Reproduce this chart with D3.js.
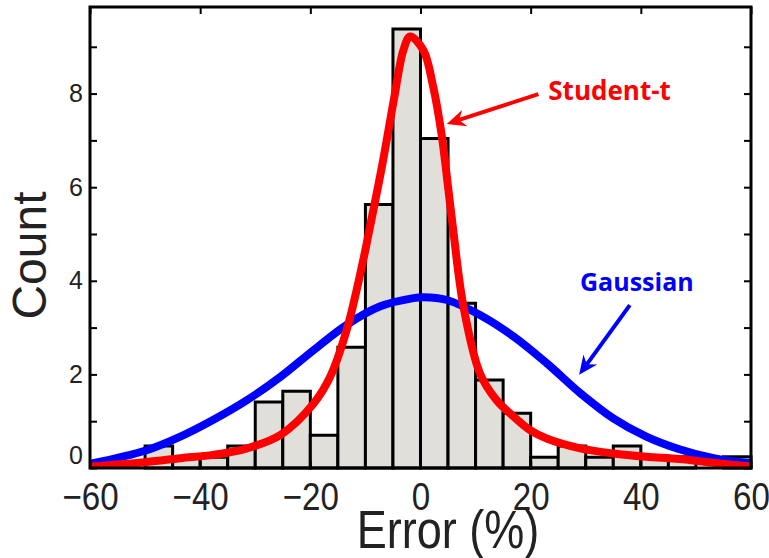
<!DOCTYPE html>
<html>
<head>
<meta charset="utf-8">
<script src="https://cdn.jsdelivr.net/npm/d3@7"></script>
<style>
  body { margin: 0; background: #fff; }
</style>
</head>
<body>
<script>
// histogram of errors, bins 5 % wide
var binEdges = [-60,-55,-50,-45,-40,-35,-30,-25,-20,-15,-10,-5,0,5,10,15,20,25,30,35,40,45,50,55,60]
var binCounts = [0,0,0.47,0.23,0.23,0.47,1.41,1.64,0.70,2.58,5.63,9.38,7.04,3.52,1.88,1.17,0.23,0.47,0.23,0.47,0.23,0.24,0,0.24]

// fitted curves
var gaussX = [-60,-49.7,-43.6,-37.6,-31.5,-25.4,-19.4,-13.4,-7.4,-1.3,0.5,4.8,10.8,16.9,22.9,29,35,41,47,53.2,60]
var gaussY = [0.09,0.38,0.67,1.03,1.45,1.95,2.52,3.06,3.45,3.63,3.65,3.59,3.27,2.81,2.24,1.60,1.06,0.67,0.40,0.21,0.10]

var studX = [-60,-49.7,-43.6,-37.6,-31.5,-25.4,-19.4,-16.4,-13.4,-10.4,-9.4,-7.0,-4.85,-3.1,-1.9,0.5,2.3,3.8,5.0,6.0,7.8,10.8,13.8,16.9,19.9,22.9,29,35,41,47,53.2,60]
var studY = [0.03,0.13,0.21,0.28,0.42,0.71,1.38,1.95,2.95,4.44,5.02,6.44,7.86,8.93,9.22,8.93,8.15,7.15,6.01,5.02,3.45,2.02,1.45,1.10,0.81,0.63,0.42,0.31,0.24,0.19,0.11,0.03]

var xTicks = [-60,-40,-20,0,20,40,60]
var yTicks = [0,1,2,3,4,5,6,7,8,9]
var yLabels = [0,2,4,6,8]

var width = 769, height = 558
var m = {left: 90, right: 751, top: 7, bottom: 468}
var sans = "'Liberation Sans', Arial, sans-serif"
var squeeze = "scale(0.85,1)"   // condensed look, no narrow font installed

var svg = d3.select("body").append("svg")
    .attr("width", width)
    .attr("height", height)

var x = d3.scaleLinear().domain([-60, 60]).range([m.left, m.right])
var y = d3.scaleLinear().domain([0, 9.85]).range([m.bottom, m.top])

svg.append("defs").append("clipPath").attr("id", "plot")
    .append("rect")
    .attr("x", m.left).attr("y", m.top)
    .attr("width", m.right - m.left).attr("height", m.bottom - m.top)

// bars
var bins = binCounts.map(function(c, i){ return {x0: binEdges[i], x1: binEdges[i+1], c: c} })
svg.append("g")
    .selectAll("rect")
    .data(bins.filter(function(d){ return d.c > 0 }))
    .enter()
    .append("rect")
    .attr("x", function(d){ return x(d.x0) })
    .attr("y", function(d){ return y(d.c) })
    .attr("width", function(d){ return x(d.x1) - x(d.x0) })
    .attr("height", function(d){ return y(0) - y(d.c) })
    .attr("fill", "#e0dfda")
    .attr("stroke", "#000")
    .attr("stroke-width", 3)

// curves
var line = d3.line()
    .x(function(d){ return x(d[0]) })
    .y(function(d){ return y(d[1]) })
    .curve(d3.curveCatmullRom.alpha(0.5))

var curves = svg.append("g").attr("clip-path", "url(#plot)")
curves.append("path")
    .attr("d", line(d3.zip(gaussX, gaussY)))
    .attr("fill", "none")
    .attr("stroke", "#0000ff")
    .attr("stroke-width", 8)
curves.append("path")
    .attr("d", line(d3.zip(studX, studY)))
    .attr("fill", "none")
    .attr("stroke", "#ff0000")
    .attr("stroke-width", 8)

// axes, ticks pointing inward
var fmtY = function(d){ return yLabels.indexOf(d) >= 0 ? d : "" }
var fmtX = function(d){ return d < 0 ? "\u2212" + Math.abs(d) : d }

var gl = svg.append("g").attr("transform", "translate(" + m.left + ",0)")
    .call(d3.axisLeft(y).tickValues(yTicks).tickSize(-7).tickPadding(7).tickFormat(fmtY))
var gr = svg.append("g").attr("transform", "translate(" + m.right + ",0)")
    .call(d3.axisRight(y).tickValues(yTicks).tickSize(-7).tickFormat(""))
var gb = svg.append("g").attr("transform", "translate(0," + m.bottom + ")")
    .call(d3.axisBottom(x).tickValues(xTicks).tickSize(-7).tickPadding(14).tickFormat(fmtX))
var gt = svg.append("g").attr("transform", "translate(0," + m.top + ")")
    .call(d3.axisTop(x).tickValues(xTicks).tickSize(-7).tickFormat(""))

svg.selectAll(".domain").remove()
svg.selectAll(".tick line").attr("stroke", "#000").attr("stroke-width", 2)

gl.selectAll("text")
    .style("font-family", sans)
    .style("font-size", "25px")
    .attr("fill", "#222")
gl.selectAll(".tick").filter(function(d){ return d == 0 }).select("text").attr("dy", "-0.18em")

gb.selectAll("text")
    .style("font-family", sans)
    .style("font-size", "39px")
    .attr("transform", squeeze)
    .attr("fill", "#222")

// frame
svg.append("rect")
    .attr("x", m.left).attr("y", m.top)
    .attr("width", m.right - m.left).attr("height", m.bottom - m.top)
    .attr("fill", "none")
    .attr("stroke", "#000")
    .attr("stroke-width", 3)

// axis titles
svg.append("g")
    .attr("transform", "translate(448,548)")
  .append("text")
    .attr("transform", squeeze)
    .attr("text-anchor", "middle")
    .style("font-family", sans)
    .style("font-size", "53px")
    .attr("fill", "#222")
    .text("Error (%)")

svg.append("text")
    .attr("transform", "translate(46," + ((m.top + m.bottom) / 2 + 18) + ") rotate(-90)")
    .attr("text-anchor", "middle")
    .style("font-family", sans)
    .style("font-size", "48px")
    .attr("fill", "#222")
    .text("Count")

// annotations
function arrow(x0, y0, x1, y1, color){
    var px0 = x(x0), py0 = y(y0), px1 = x(x1), py1 = y(y1)
    var a = Math.atan2(py1 - py0, px1 - px0)
    var len = 19, half = 8.5, notch = 13
    var ux = Math.cos(a), uy = Math.sin(a)
    var bx = px1 - ux * len, by = py1 - uy * len
    var nx = px1 - ux * notch, ny = py1 - uy * notch
    svg.append("line")
        .attr("x1", px0).attr("y1", py0)
        .attr("x2", nx).attr("y2", ny)
        .attr("stroke", color).attr("stroke-width", 4)
    svg.append("path")
        .attr("d", "M" + px1 + "," + py1 +
            "L" + (bx - uy * half) + "," + (by + ux * half) +
            "L" + nx + "," + ny +
            "L" + (bx + uy * half) + "," + (by - ux * half) + "Z")
        .attr("fill", color)
}

arrow(21.4, 7.99, 4.76, 7.35, "#ff0000")
arrow(38.0, 3.48, 28.8, 1.99, "#0000ff")

svg.append("text")
    .attr("x", x(23.2)).attr("y", y(7.86))
    .style("font-family", "Open Sans")
    .style("font-weight", "bold")
    .style("font-size", "26px")
    .attr("fill", "#ff0000")
    .text("Student-t")

svg.append("text")
    .attr("x", x(28.96)).attr("y", y(3.79))
    .style("font-family", "Open Sans")
    .style("font-weight", "bold")
    .style("font-size", "25px")
    .attr("fill", "#0000ff")
    .text("Gaussian")
</script>
</body>
</html>
